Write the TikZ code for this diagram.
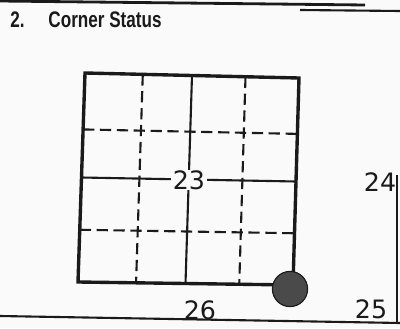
\documentclass[tikz,border=0pt]{standalone}
\usepackage{fontspec}
\setmainfont{Liberation Sans}
\newfontfamily\handfont{DejaVu Sans}
\usetikzlibrary{calc}
\definecolor{paper}{HTML}{FAFAFA}
\definecolor{ink}{HTML}{1A1A1A}
\definecolor{dotfill}{HTML}{4A4A4A}
\tikzset{
  frame/.style={draw=ink,line width=2.4pt,line join=miter},
  solidline/.style={draw=ink,line width=1.5pt},
  dashline/.style={draw=ink,line width=1.5pt,dash pattern=on 8pt off 4pt},
  rule/.style={draw=ink,line width=1.5pt},
  title/.style={font=\fontsize{16}{18}\selectfont\bfseries,text=ink,anchor=west,inner sep=0pt},
  hand/.style={font=\handfont\fontsize{18}{20}\selectfont,text=ink,inner sep=0pt}
}
\begin{document}
\begin{tikzpicture}[x=0.025cm,y=-0.025cm]
  \fill[paper] (0,0) rectangle (400,328);
  \useasboundingbox (0,0) rectangle (400,328);

  % page rules
  \draw[rule,line width=2pt] (0,1) -- (365,5);
  \draw[rule] (300,10) -- (400,11);
  \draw[rule] (0,316) -- (400,323);
  \draw[rule] (397,175) -- (397,323);

  \node[title] (heading) at (10,20) {\scalebox{0.76}[1]{2.\hspace{1.4em}Corner Status}};

  % board corners
  \coordinate (tl) at (85,73);
  \coordinate (tr) at (299,78);
  \coordinate (br) at (293,285);
  \coordinate (bl) at (78,282);

  \foreach \t/\kind in {0.27/dashline,0.5/solidline,0.75/dashline}{
    \draw[\kind] ($(tl)!\t!(tr)$) -- ($(bl)!\t!(br)$);
    \draw[\kind] ($(tl)!\t!(bl)$) -- ($(tr)!\t!(br)$);
  }
  \draw[frame] (tl) -- (tr) -- (br) -- (bl) -- cycle;

  \node[circle,fill=dotfill,draw=ink,line width=0.8pt,minimum size=0.88cm,inner sep=0pt] (corner) at (290,289) {};

  \node[hand,fill=paper,inner xsep=1pt] (n23) at (189,180) {23};
  \node[hand] (n24) at (380,182) {24};
  \node[hand] (n25) at (371,309) {25};
  \node[hand] (n26) at (200,310) {26};
\end{tikzpicture}
\end{document}
